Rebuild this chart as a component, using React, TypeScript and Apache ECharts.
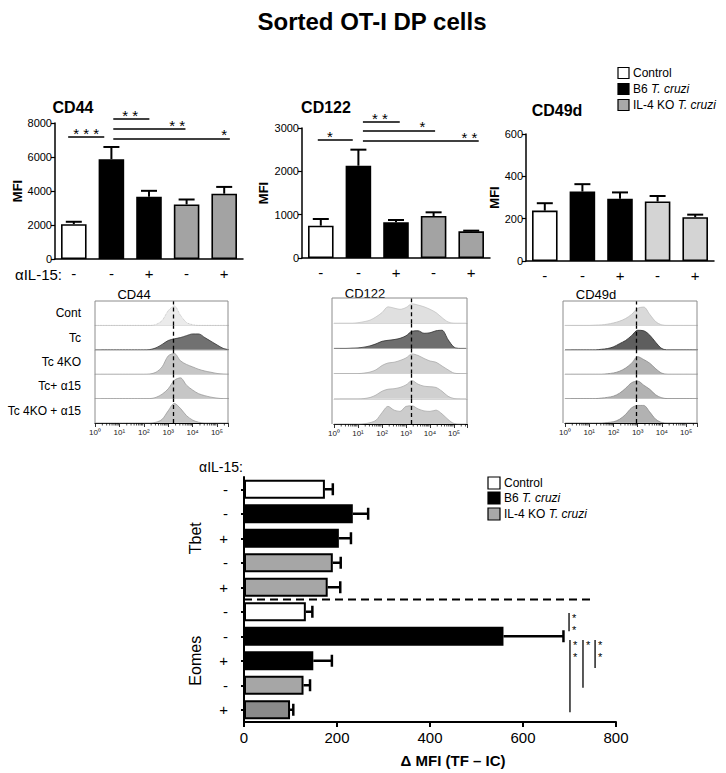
import React, { useEffect, useRef } from 'react';
import * as echarts from 'echarts';

const FONT = '"Liberation Sans", Arial, Helvetica, sans-serif';

// ---------- data ----------
const groupNames = ['Control', 'B6 T. cruzi', 'IL-4 KO T. cruzi'];
const barCategories = ['Control', 'B6', 'B6 + aIL-15', 'IL-4 KO', 'IL-4 KO + aIL-15'];
const antiIL15 = ['-', '-', '+', '-', '+'];

const cd44Mean = [2050, 5870, 3660, 3210, 3840];
const cd44Sem = [140, 720, 350, 290, 400];
const cd122Mean = [746, 2130, 823, 969, 615];
const cd122Sem = [154, 370, 54, 85, 16];
const cd49dMean = [238, 328, 294, 281, 207];
const cd49dSem = [35, 35, 30, 26, 12];

const cd44Sig = [
  { from: -0.15, to: 0.81, level: 7176, text: '* * *', at: 0.33 },
  { from: 1.05, to: 2.01, level: 8235, text: '* *', at: 1.5 },
  { from: 1.05, to: 2.97, level: 7647, text: '* *', at: 2.75 },
  { from: 1.05, to: 4.15, level: 7059, text: '*', at: 4.0 },
];
const cd122Sig = [
  { from: -0.08, to: 0.85, level: 2723, text: '*', at: 0.24 },
  { from: 1.12, to: 2.1, level: 3138, text: '* *', at: 1.57 },
  { from: 1.12, to: 3.04, level: 2931, text: '*', at: 2.7 },
  { from: 1.12, to: 4.2, level: 2700, text: '* *', at: 3.95 },
];

const histRowLabels = ['Cont', 'Tc', 'Tc 4KO', 'Tc+ \u03b115', 'Tc 4KO + \u03b115'];
const histLog = [0, 0.25, 0.5, 0.75, 1, 1.25, 1.5, 1.75, 2, 2.25, 2.5, 2.75, 3, 3.25, 3.5, 3.75, 4, 4.25, 4.5, 4.75, 5, 5.25, 5.5];
const logTickLabels = ['10\u2070', '10\u00b9', '10\u00b2', '10\u00b3', '10\u2074', '10\u2075'];

const cd44Hist = [
  [0, 0, 0, 0, 0, 0, 0, 0, 0, 0, 0.04, 0.2, 0.6, 0.8, 0.42, 0.12, 0.03, 0, 0, 0, 0, 0, 0],
  [0, 0, 0, 0, 0, 0, 0, 0, 0, 0.01, 0.08, 0.22, 0.38, 0.45, 0.5, 0.58, 0.65, 0.65, 0.5, 0.35, 0.2, 0.06, 0],
  [0, 0, 0, 0, 0, 0, 0, 0, 0, 0.01, 0.08, 0.3, 0.75, 0.85, 0.55, 0.4, 0.3, 0.2, 0.13, 0.08, 0.03, 0.01, 0],
  [0, 0, 0, 0, 0, 0, 0, 0, 0, 0, 0.05, 0.18, 0.4, 0.75, 0.85, 0.55, 0.35, 0.2, 0.12, 0.06, 0.02, 0, 0],
  [0, 0, 0, 0, 0, 0, 0, 0, 0, 0, 0.03, 0.15, 0.5, 0.8, 0.6, 0.3, 0.12, 0.03, 0, 0, 0, 0, 0],
];
const cd122Hist = [
  [0, 0, 0, 0, 0.02, 0.06, 0.12, 0.25, 0.42, 0.65, 0.6, 0.55, 0.62, 0.77, 0.72, 0.65, 0.55, 0.42, 0.22, 0.05, 0, 0, 0],
  [0, 0, 0, 0.01, 0.02, 0.05, 0.1, 0.18, 0.28, 0.32, 0.35, 0.4, 0.5, 0.68, 0.7, 0.6, 0.62, 0.7, 0.72, 0.35, 0.05, 0, 0],
  [0, 0, 0, 0, 0, 0.02, 0.06, 0.15, 0.32, 0.42, 0.45, 0.52, 0.62, 0.78, 0.72, 0.6, 0.5, 0.45, 0.3, 0.15, 0.02, 0, 0],
  [0, 0, 0, 0, 0, 0.01, 0.05, 0.15, 0.3, 0.38, 0.4, 0.45, 0.55, 0.72, 0.58, 0.5, 0.48, 0.45, 0.3, 0.1, 0.01, 0, 0],
  [0, 0, 0, 0, 0, 0.01, 0.05, 0.15, 0.45, 0.7, 0.55, 0.5, 0.7, 0.72, 0.6, 0.52, 0.5, 0.55, 0.4, 0.18, 0.02, 0, 0],
];
const cd49dHist = [
  [0, 0, 0, 0, 0, 0.01, 0.02, 0.05, 0.1, 0.17, 0.28, 0.45, 0.7, 0.75, 0.45, 0.15, 0.02, 0, 0, 0, 0, 0, 0],
  [0, 0, 0, 0, 0, 0, 0.02, 0.05, 0.12, 0.25, 0.38, 0.58, 0.8, 0.78, 0.6, 0.3, 0.05, 0, 0, 0, 0, 0, 0],
  [0, 0, 0, 0, 0, 0, 0, 0.02, 0.05, 0.12, 0.25, 0.45, 0.72, 0.6, 0.45, 0.22, 0.04, 0, 0, 0, 0, 0, 0],
  [0, 0, 0, 0, 0, 0, 0.02, 0.05, 0.1, 0.22, 0.42, 0.65, 0.72, 0.55, 0.38, 0.15, 0.03, 0, 0, 0, 0, 0, 0],
  [0, 0, 0, 0, 0, 0, 0, 0.02, 0.05, 0.15, 0.35, 0.62, 0.72, 0.72, 0.45, 0.15, 0.02, 0, 0, 0, 0, 0, 0],
];
const cd44Gate = 3.2;
const cd122Gate = 3.2;
const cd49dGate = 2.93;

const tfGroups = ['Tbet', 'Eomes'];
const tbetMean = [174, 234, 204, 191, 180];
const tbetSem = [17, 33, 26, 17, 27];
const eomesMean = [133, 558, 149, 128, 99];
const eomesSem = [14, 129, 40, 14, 7];
const eomesSig = [
  { from: 5.05, to: 5.8, x: 699, stars: 2 },
  { from: 6.15, to: 9.1, x: 701, stars: 2 },
  { from: 6.15, to: 8.1, x: 729, stars: 1 },
  { from: 6.15, to: 7.3, x: 755, stars: 2 },
];

// ---------- styles ----------
const WHITE = '#ffffff';
const BLACK = '#000000';
const GREY = '#a3a3a3';
const LIGHT = '#d4d4d4';
const colorsStrong = [WHITE, BLACK, BLACK, GREY, GREY];
const colorsLight = [WHITE, BLACK, BLACK, LIGHT, LIGHT];
const bottomColors = [WHITE, BLACK, BLACK, '#a6a6a6', '#a6a6a6', WHITE, BLACK, BLACK, '#a6a6a6', '#8a8a8a'];

function vErr(params: any, api: any) {
  const x = api.value(0);
  const m = api.value(1);
  const e = api.value(2);
  const p0 = api.coord([x, m]);
  const p1 = api.coord([x, m + e]);
  const cap = 8;
  return {
    type: 'group',
    children: [
      { type: 'line', shape: { x1: p0[0], y1: p0[1], x2: p1[0], y2: p1[1] }, style: { stroke: '#000', lineWidth: 2 } },
      { type: 'line', shape: { x1: p1[0] - cap, y1: p1[1], x2: p1[0] + cap, y2: p1[1] }, style: { stroke: '#000', lineWidth: 2 } },
    ],
  };
}
function hErr(params: any, api: any) {
  const m = api.value(0);
  const y = api.value(1);
  const e = api.value(2);
  const p0 = api.coord([m, y]);
  const p1 = api.coord([m + e, y]);
  const cap = 6;
  return {
    type: 'group',
    children: [
      { type: 'line', shape: { x1: p0[0], y1: p0[1], x2: p1[0], y2: p1[1] }, style: { stroke: '#000', lineWidth: 2.5 } },
      { type: 'line', shape: { x1: p1[0], y1: p1[1] - cap, x2: p1[0], y2: p1[1] + cap }, style: { stroke: '#000', lineWidth: 2.5 } },
    ],
  };
}
function minorTick(params: any, api: any) {
  const p = api.coord([api.value(0), 0]);
  return { type: 'line', shape: { x1: p[0], y1: p[1], x2: p[0], y2: p[1] + 2.5 }, style: { stroke: '#000', lineWidth: 0.7 } };
}

const topPanels = [
  { title: 'CD44', mean: cd44Mean, sem: cd44Sem, max: 8000, interval: 2000, colors: colorsStrong, grid: { left: 55, top: 123, width: 188, height: 136 }, nameGap: 29, sig: cd44Sig, titlePos: [73, 107] },
  { title: 'CD122', mean: cd122Mean, sem: cd122Sem, max: 3000, interval: 1000, colors: colorsStrong, grid: { left: 302, top: 128, width: 188, height: 130 }, nameGap: 32, sig: cd122Sig, titlePos: [326, 107] },
  { title: 'CD49d', mean: cd49dMean, sem: cd49dSem, max: 600, interval: 200, colors: colorsLight, grid: { left: 526, top: 134, width: 188, height: 127 }, nameGap: 23, sig: [], titlePos: [557, 110] },
];

const histFills = [
  [{ fill: '#ebebeb', line: '#b5b5b5', type: 'dotted' }, { fill: '#717171', line: '#333333' }, { fill: '#c6c6c6', line: '#9a9a9a' }, { fill: '#c6c6c6', line: '#9a9a9a' }, { fill: '#c6c6c6', line: '#9a9a9a' }],
  [{ fill: '#e0e0e0', line: '#c4c4c4' }, { fill: '#6e6e6e', line: '#2e2e2e' }, { fill: '#d0d0d0', line: '#ababab' }, { fill: '#d0d0d0', line: '#ababab' }, { fill: '#cccccc', line: '#a8a8a8' }],
  [{ fill: '#d9d9d9', line: '#bdbdbd' }, { fill: '#5e5e5e', line: '#2a2a2a' }, { fill: '#b2b2b2', line: '#8a8a8a' }, { fill: '#b2b2b2', line: '#8a8a8a' }, { fill: '#b2b2b2', line: '#8a8a8a' }],
];
const histPanels = [
  { title: 'CD44', rows: cd44Hist, gate: cd44Gate, left: 95, width: 133, top: 301, height: 122, max: 5.45, frameLeft: 95, titlePos: [134, 294] },
  { title: 'CD122', rows: cd122Hist, gate: cd122Gate, left: 334, width: 133, top: 298, height: 126, max: 5.54, frameLeft: 332, titlePos: [365, 293] },
  { title: 'CD49d', rows: cd49dHist, gate: cd49dGate, left: 565, width: 132, top: 301, height: 122, max: 5.45, frameLeft: 563, titlePos: [596, 294] },
];

const BOTTOM_GRID = 18;

function buildOption() {
  const grid: any[] = [];
  const xAxis: any[] = [];
  const yAxis: any[] = [];
  const series: any[] = [];

  topPanels.forEach((p) => {
    const gi = grid.length;
    grid.push(p.grid);
    xAxis.push({
      gridIndex: gi,
      type: 'category',
      data: barCategories,
      axisLine: { lineStyle: { color: '#000', width: 1.5 } },
      axisTick: { alignWithLabel: true, length: 4, lineStyle: { color: '#000', width: 1.2 } },
      axisLabel: { color: '#000', fontSize: 15, margin: 7, formatter: (_v: string, i: number) => antiIL15[i] },
    });
    yAxis.push({
      gridIndex: gi,
      type: 'value',
      min: 0,
      max: p.max,
      interval: p.interval,
      axisLine: { show: true, lineStyle: { color: '#000', width: 1.5 } },
      axisTick: { show: true, length: 4, lineStyle: { color: '#000', width: 1.2 } },
      axisLabel: { color: '#000', fontSize: 11, margin: 3, formatter: (v: number) => String(v) },
      splitLine: { show: false },
      name: 'MFI',
      nameLocation: 'middle',
      nameGap: p.nameGap,
      nameTextStyle: { fontSize: 13, fontWeight: 'bold', color: '#000' },
    });
    series.push({
      type: 'bar',
      xAxisIndex: gi,
      yAxisIndex: gi,
      barWidth: '68%',
      data: p.mean.map((v, i) => ({ value: v, itemStyle: { color: p.colors[i] } })),
      itemStyle: { borderColor: '#000', borderWidth: 1.6 },
      z: 2,
    });
    series.push({
      type: 'custom',
      xAxisIndex: gi,
      yAxisIndex: gi,
      renderItem: vErr,
      data: p.mean.map((v, i) => [i, v, p.sem[i]]),
      z: 3,
    });
  });

  histPanels.forEach((hp, pi) => {
    const rowH = hp.height / 5;
    hp.rows.forEach((vals, r) => {
      const gi = grid.length;
      const last = r === 4;
      grid.push({ left: hp.left, top: hp.top + r * rowH, width: hp.width, height: rowH });
      xAxis.push({
        gridIndex: gi,
        type: 'value',
        min: 0,
        max: hp.max,
        interval: 1,
        axisLine: { show: true, lineStyle: { color: last ? '#000' : '#d6d6d6', width: last ? 1.2 : 1 } },
        axisTick: { show: last, length: 4, lineStyle: { color: '#000', width: 0.8 } },
        axisLabel: {
          show: last,
          fontSize: 8,
          color: '#222',
          margin: 5,
          formatter: (v: number) => (Number.isInteger(v) ? logTickLabels[v] : ''),
        },
        splitLine: { show: false },
      });
      yAxis.push({ gridIndex: gi, type: 'value', min: 0, max: 1, show: false });
      const st: any = histFills[pi][r];
      series.push({
        type: 'line',
        xAxisIndex: gi,
        yAxisIndex: gi,
        data: histLog.map((x, k) => [x, vals[k]]),
        smooth: 0.3,
        symbol: 'none',
        lineStyle: { color: st.line, width: 0.8, type: st.type || 'solid' },
        areaStyle: { color: st.fill, opacity: 1 },
        markLine: {
          silent: true,
          symbol: 'none',
          label: { show: false },
          lineStyle: { type: [4, 3], color: '#000', width: 1.3 },
          data: [{ xAxis: hp.gate }],
        },
        z: 2,
      });
      if (last) {
        const minors: number[][] = [];
        for (let n = 0; n <= 5; n++) {
          for (let k = 2; k <= 9; k++) {
            const v = n + Math.log10(k);
            if (v < hp.max) minors.push([v, 0]);
          }
        }
        series.push({ type: 'custom', xAxisIndex: gi, yAxisIndex: gi, renderItem: minorTick, data: minors, z: 3 });
      }
    });
  });

  // bottom chart
  const gi = grid.length; // 18
  grid.push({ left: 244, top: 477, width: 372, height: 245 });
  const bottomCats: string[] = [];
  tfGroups.forEach((g) => barCategories.forEach((c) => bottomCats.push(g + ' ' + c)));
  const bottomMean = [...tbetMean, ...eomesMean];
  const bottomSem = [...tbetSem, ...eomesSem];
  xAxis.push({
    gridIndex: gi,
    type: 'value',
    min: 0,
    max: 800,
    interval: 200,
    axisLine: { show: true, lineStyle: { color: '#000', width: 2 } },
    axisTick: { show: true, length: 5, lineStyle: { color: '#000', width: 2 } },
    axisLabel: { color: '#000', fontSize: 15, margin: 8 },
    splitLine: { show: false },
    name: '\u0394 MFI (TF \u2013 IC)',
    nameLocation: 'middle',
    nameGap: 31,
    nameTextStyle: { fontSize: 15, fontWeight: 'bold', color: '#000', padding: [0, 0, 0, 46] },
  });
  yAxis.push({
    gridIndex: gi,
    type: 'category',
    inverse: true,
    data: bottomCats,
    axisLine: { show: true, lineStyle: { color: '#000', width: 2 } },
    axisTick: { show: true, alignWithLabel: true, length: 3, lineStyle: { color: '#000', width: 2 } },
    axisLabel: { color: '#000', fontSize: 15, margin: 16, formatter: (_v: string, i: number) => antiIL15[i % 5] },
  });
  series.push({
    type: 'bar',
    xAxisIndex: gi,
    yAxisIndex: gi,
    barWidth: '78%',
    data: bottomMean.map((v, i) => ({ value: v, itemStyle: { color: bottomColors[i] } })),
    itemStyle: { borderColor: '#000', borderWidth: 2 },
    z: 2,
  });
  series.push({
    type: 'custom',
    xAxisIndex: gi,
    yAxisIndex: gi,
    renderItem: hErr,
    data: bottomMean.map((v, i) => [v, i, bottomSem[i]]),
    z: 3,
  });

  return {
    animation: false,
    backgroundColor: '#fff',
    textStyle: { fontFamily: FONT },
    grid,
    xAxis,
    yAxis,
    series,
  };
}

function legendBlock(x: number, ys: number[], size: number, fontSize: number, fills: string[]) {
  const out: any[] = [];
  groupNames.forEach((name, i) => {
    out.push({
      type: 'rect',
      shape: { x, y: ys[i] - size / 2, width: size, height: size },
      style: { fill: fills[i], stroke: '#000', lineWidth: 1.2 },
    });
    const parts = name.split('T. cruzi');
    const rich = parts.length > 1 ? `{n|${parts[0]}}{i|T. cruzi}` : `{n|${name}}`;
    out.push({
      type: 'text',
      x: x + size + 4,
      y: ys[i],
      style: {
        text: rich,
        verticalAlign: 'middle',
        rich: {
          n: { fontSize, fontFamily: FONT, fill: '#000' },
          i: { fontSize, fontFamily: FONT, fontStyle: 'italic', fill: '#000' },
        },
      },
    });
  });
  return out;
}

function buildGraphics(chart: any) {
  const g: any[] = [];
  const px = (gi: number, x: number, y: number) => chart.convertToPixel({ gridIndex: gi }, [x, y]);
  const txt = (x: number, y: number, text: string, o: any = {}) => ({
    type: 'text',
    x,
    y,
    style: { text, fontFamily: FONT, fill: '#000', verticalAlign: 'middle', align: 'left', fontSize: 12, ...o },
  });

  g.push(txt(372, 21, 'Sorted OT-I DP cells', { fontSize: 24, fontWeight: 'bold', align: 'center' }));

  topPanels.forEach((p, gi) => {
    g.push(txt(p.titlePos[0], p.titlePos[1], p.title, { fontSize: 16, fontWeight: 'bold', align: 'center' }));
    const c0 = px(gi, 0, 0)[0];
    const band = px(gi, 1, 0)[0] - c0;
    p.sig.forEach((s) => {
      const y = px(gi, 0, s.level)[1];
      g.push({ type: 'line', shape: { x1: c0 + s.from * band, y1: y, x2: c0 + s.to * band, y2: y }, style: { stroke: '#000', lineWidth: 1.3 } });
      g.push(txt(c0 + s.at * band, y - 4, s.text, { fontSize: 15, align: 'center' }));
    });
  });
  g.push(txt(15, 274, '\u03b1IL-15:', { fontSize: 15 }));

  g.push(...legendBlock(618, [73, 89, 105], 11, 12, [WHITE, BLACK, '#a8a8a8']));

  histPanels.forEach((hp) => {
    const right = hp.left + hp.width;
    const bottom = hp.top + hp.height;
    g.push({
      type: 'polyline',
      shape: { points: [[hp.frameLeft, bottom], [hp.frameLeft, hp.top], [right, hp.top], [right, bottom]] },
      style: { stroke: '#8c8c8c', lineWidth: 1, fill: 'none' },
      z: 10,
    });
    g.push(txt(hp.titlePos[0], hp.titlePos[1], hp.title, { fontSize: 13, align: 'center' }));
  });
  const rowH0 = histPanels[0].height / 5;
  histRowLabels.forEach((l, r) => {
    g.push(txt(81, histPanels[0].top + r * rowH0 + rowH0 / 2, l, { fontSize: 12, align: 'right' }));
  });

  // bottom chart
  const B = BOTTOM_GRID;
  const y0 = px(B, 0, 0)[1];
  const bandY = px(B, 0, 1)[1] - y0;
  const yc = (c: number) => y0 + c * bandY;
  const xOf = (v: number) => px(B, v, 0)[0];
  g.push({
    type: 'line',
    shape: { x1: xOf(0), y1: yc(4.5), x2: xOf(752), y2: yc(4.5) },
    style: { stroke: '#000', lineWidth: 2, lineDash: [8, 5] },
  });
  eomesSig.forEach((s) => {
    const x = xOf(s.x);
    g.push({ type: 'line', shape: { x1: x, y1: yc(s.from), x2: x, y2: yc(s.to) }, style: { stroke: '#000', lineWidth: 1.3 } });
    for (let k = 0; k < s.stars; k++) {
      g.push(txt(x + 3, yc(s.from) + k * 11.5, '*', { fontSize: 11, verticalAlign: 'top' }));
    }
  });
  g.push({ ...txt(195, yc(2), tfGroups[0], { fontSize: 16, align: 'center' }), rotation: Math.PI / 2 });
  g.push({ ...txt(195, yc(7), tfGroups[1], { fontSize: 16, align: 'center' }), rotation: Math.PI / 2 });
  g.push(txt(243, 467, '\u03b1IL-15:', { fontSize: 14, align: 'right' }));
  g.push(...legendBlock(488, [483, 498, 514], 12, 12, [WHITE, BLACK, '#a8a8a8']));

  return g;
}

export default function App() {
  const ref = useRef<HTMLDivElement>(null);
  useEffect(() => {
    const chart = echarts.init(ref.current!, null, { renderer: 'svg' });
    chart.setOption(buildOption() as any);
    chart.setOption({ graphic: buildGraphics(chart) } as any);
    return () => chart.dispose();
  }, []);
  return (
    <div
      ref={ref}
      style={{ position: 'fixed', left: 0, top: 0, width: 726, height: 773, background: '#fff' }}
    />
  );
}
